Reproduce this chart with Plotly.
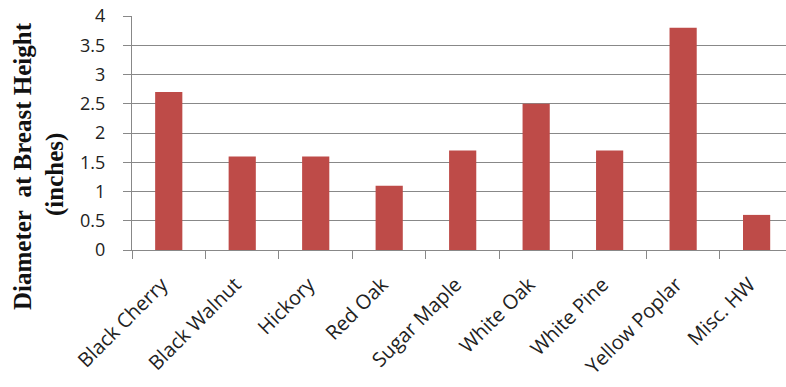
import plotly.graph_objects as go

# Species and mean diameter at breast height (inches)
species = ["Black Cherry", "Black Walnut", "Hickory", "Red Oak", "Sugar Maple",
           "White Oak", "White Pine", "Yellow Poplar", "Misc. HW"]
dbh_inches = [2.7, 1.6, 1.6, 1.1, 1.7, 2.5, 1.7, 3.8, 0.6]
y_ticks = [0, 0.5, 1, 1.5, 2, 2.5, 3, 3.5, 4]
y_tick_text = ["0", "0.5", "1", "1.5", "2", "2.5", "3", "3.5", "4"]

W, H = 786, 387
ML, MR, MT, MB = 132, 0, 16, 137
plot_w = W - ML - MR
plot_h = H - MT - MB


def px_x(px):
    return (px - ML) / plot_w


def px_y(py):
    return (H - MB - py) / plot_h


grid = "#888888"
label_color = "#222222"

fig = go.Figure(
    go.Bar(
        x=species,
        y=dbh_inches,
        width=0.37,
        marker=dict(color="#BE4B48", line=dict(width=0)),
    )
)

fig.update_layout(
    width=W,
    height=H,
    margin=dict(l=ML, r=MR, t=MT, b=MB),
    paper_bgcolor="white",
    plot_bgcolor="white",
    showlegend=False,
    font=dict(family="Open Sans", color=label_color),
)

fig.update_xaxes(
    type="category",
    range=[-0.5, 8.4],
    tickangle=-45,
    tickson="boundaries",
    ticks="outside",
    ticklen=8,
    tickcolor=grid,
    ticklabelstandoff=14,
    ticklabelshift=-7,
    showline=True,
    linecolor=grid,
    linewidth=1,
    showgrid=False,
    tickfont=dict(family="Open Sans", size=20, color=label_color),
)

fig.update_yaxes(
    range=[0, 4],
    tickvals=y_ticks,
    ticktext=y_tick_text,
    ticks="outside",
    ticklen=8,
    tickcolor=grid,
    ticklabelstandoff=14,
    showline=True,
    linecolor=grid,
    linewidth=1,
    showgrid=True,
    gridcolor=grid,
    gridwidth=1,
    zeroline=False,
    tickfont=dict(family="Open Sans", size=18, color=label_color),
)

title_font = dict(family="Liberation Serif", size=25, color="#111111")
fig.add_annotation(
    text="<b>Diameter\u00a0 at Breast Height</b>",
    xref="paper", yref="paper",
    x=px_x(22), y=px_y(166),
    xanchor="center", yanchor="middle",
    textangle=-90, showarrow=False, font=title_font,
)
fig.add_annotation(
    text="<b>(inches)</b>",
    xref="paper", yref="paper",
    x=px_x(55), y=px_y(175),
    xanchor="center", yanchor="middle",
    textangle=-90, showarrow=False, font=title_font,
)

fig.write_html("out.html")
